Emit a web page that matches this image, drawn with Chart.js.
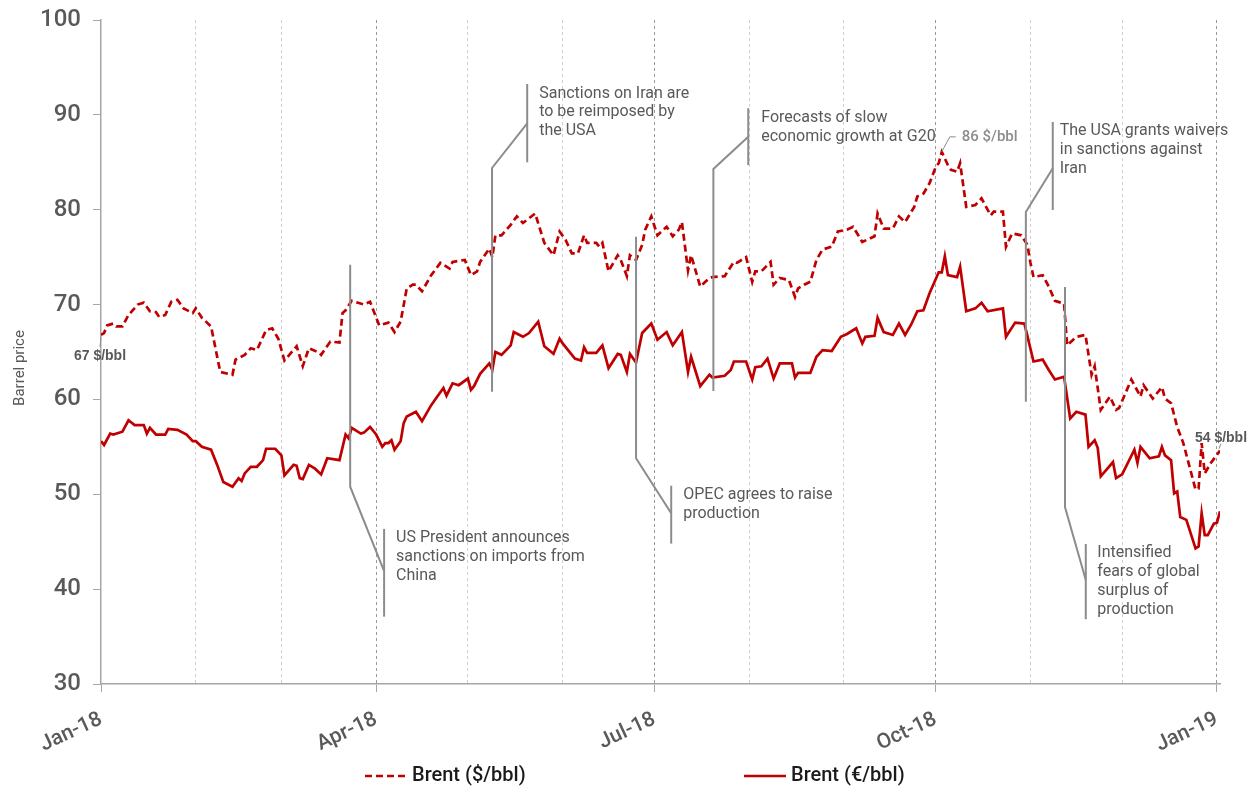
<!DOCTYPE html>
<html>
<head>
<meta charset="utf-8">
<script src="https://cdn.jsdelivr.net/npm/chart.js@4.4.1/dist/chart.umd.min.js"></script>
<style>
    body { margin: 0; background: #fff; }
    .chart-box { width: 1256px; height: 789px; }
</style>
</head>
<body>
<div class="chart-box"><canvas id="myChart"></canvas></div>
<script>
"use strict"
// x values are days counted from 1 Jan 2018

const usdDays = [
    0, 1, 2, 4, 5, 7, 9, 12, 14, 16,
    18, 19, 21, 23, 25, 27, 30, 31, 33, 36,
    37, 39, 43, 44, 47, 49, 51, 54, 56, 58,
    60, 64, 66, 68, 71, 72, 75, 78, 79, 80,
    82, 86, 88, 91, 94, 96, 98, 100, 102, 103,
    105, 108, 111, 114, 115, 119, 121, 123, 124, 127,
    128, 129, 131, 134, 136, 138, 140, 142, 145, 148,
    150, 152, 154, 156, 158, 159, 162, 163, 164, 166,
    169, 170, 172, 173, 175, 177, 178, 180, 182, 185,
    187, 189, 190, 192, 193, 196, 199, 200, 204, 207,
    208, 211, 213, 214, 216, 219, 220, 222, 225, 227,
    228, 230, 232, 234, 236, 239, 241, 244, 246, 249,
    253, 254, 256, 259, 261, 263, 266, 267, 269, 271,
    273, 274, 275, 277, 278, 280, 281, 283, 286, 288,
    291, 292, 295, 296, 298, 301, 303, 304, 305, 308,
    310, 312, 315, 316, 319, 322, 324, 325, 327, 330,
    332, 333, 337, 340, 341, 344, 347, 348, 350, 352,
    354, 358, 359, 360, 361, 363, 366
]
const usdPrices = [
    66.8, 67.0, 67.8, 68.0, 67.7, 67.7, 68.9, 70.0, 70.2, 69.3,
    69.2, 68.7, 68.9, 70.3, 70.5, 69.6, 69.1, 69.6, 68.6, 67.7,
    66.1, 62.9, 62.6, 64.2, 64.7, 65.4, 65.2, 67.3, 67.5, 66.4,
    64.1, 65.6, 63.5, 65.4, 65.0, 64.7, 66.1, 66.0, 69.1, 69.4,
    70.4, 70.0, 70.3, 67.8, 68.1, 67.1, 68.2, 71.7, 72.1, 72.1,
    71.4, 73.1, 74.4, 73.8, 74.5, 74.7, 73.1, 73.5, 74.5, 75.9,
    75.0, 77.3, 77.3, 78.4, 79.3, 78.6, 79.1, 79.6, 76.5, 75.2,
    77.7, 76.8, 75.4, 75.4, 77.3, 76.5, 76.5, 76.1, 76.5, 73.5,
    75.2, 74.7, 73.0, 75.2, 74.7, 76.3, 77.9, 79.3, 77.3, 78.2,
    77.2, 77.9, 78.7, 73.6, 75.2, 71.9, 72.8, 72.9, 73.0, 74.5,
    74.4, 75.0, 72.4, 73.5, 73.5, 74.5, 72.1, 72.8, 72.6, 70.8,
    71.7, 72.1, 72.4, 74.7, 75.8, 76.1, 77.7, 77.9, 78.2, 76.6,
    77.2, 79.6, 78.0, 78.0, 79.3, 78.7, 80.3, 81.4, 81.7, 82.8,
    84.5, 84.9, 86.1, 84.7, 84.2, 84.0, 84.9, 80.3, 80.5, 81.2,
    79.4, 79.8, 79.8, 76.1, 77.5, 77.3, 76.3, 74.4, 72.9, 73.1,
    71.9, 70.4, 70.1, 65.7, 66.6, 66.8, 62.6, 63.5, 58.9, 60.3,
    58.9, 59.1, 62.1, 60.3, 61.5, 60.1, 61.3, 60.1, 59.6, 57.1,
    55.4, 50.5, 50.6, 55.4, 52.2, 53.3, 54.6
]

const eurDays = [
    0, 1, 3, 4, 7, 9, 11, 14, 15, 16,
    18, 21, 22, 25, 28, 30, 31, 33, 36, 38,
    40, 43, 45, 46, 47, 49, 51, 53, 54, 57,
    59, 60, 63, 64, 65, 66, 68, 70, 72, 74,
    78, 80, 81, 82, 85, 86, 88, 90, 92, 93,
    94, 95, 96, 98, 99, 100, 103, 104, 105, 108,
    110, 112, 113, 115, 117, 120, 121, 122, 124, 127,
    128, 129, 131, 134, 135, 138, 140, 143, 145, 148,
    150, 151, 155, 157, 158, 159, 162, 164, 166, 169,
    170, 172, 173, 175, 177, 180, 182, 185, 187, 190,
    192, 193, 196, 199, 200, 204, 206, 207, 211, 213,
    214, 216, 218, 220, 222, 226, 227, 228, 232, 234,
    236, 239, 242, 244, 247, 249, 250, 253, 254, 256,
    259, 261, 263, 265, 267, 269, 271, 274, 275, 276,
    277, 280, 281, 283, 286, 288, 290, 295, 296, 299,
    302, 303, 305, 308, 310, 312, 315, 317, 319, 322,
    323, 325, 326, 327, 331, 332, 334, 338, 339, 340,
    343, 346, 347, 348, 350, 351, 352, 353, 355, 358,
    359, 360, 361, 362, 364, 365, 366
]
const eurPrices = [
    55.6, 55.2, 56.4, 56.3, 56.6, 57.8, 57.3, 57.3, 56.4, 57.0,
    56.3, 56.3, 56.9, 56.8, 56.3, 55.6, 55.6, 55.0, 54.7, 53.1,
    51.3, 50.8, 51.7, 51.4, 52.2, 52.9, 52.9, 53.6, 54.8, 54.8,
    54.1, 52.0, 53.1, 53.0, 51.7, 51.6, 53.1, 52.7, 52.1, 53.8,
    53.6, 56.3, 55.9, 57.0, 56.4, 56.5, 57.1, 56.3, 55.0, 55.4,
    55.4, 55.7, 54.7, 55.6, 57.5, 58.2, 58.7, 58.2, 57.7, 59.4,
    60.3, 61.2, 60.4, 61.7, 61.5, 62.2, 61.0, 61.4, 62.7, 63.8,
    63.1, 65.0, 64.7, 65.7, 67.1, 66.6, 67.0, 68.2, 65.6, 64.8,
    66.4, 65.9, 64.3, 64.1, 65.5, 64.9, 64.9, 65.7, 63.3, 64.8,
    64.7, 62.9, 64.8, 63.9, 67.0, 68.0, 66.3, 67.1, 65.7, 67.1,
    62.9, 64.5, 61.4, 62.6, 62.3, 62.5, 63.1, 64.0, 64.0, 62.1,
    63.4, 63.5, 64.3, 62.2, 63.8, 63.8, 62.3, 62.8, 62.8, 64.5,
    65.2, 65.1, 66.6, 66.9, 67.5, 65.9, 66.6, 66.7, 68.6, 67.1,
    66.8, 68.0, 66.8, 67.9, 69.3, 69.4, 71.2, 73.4, 73.4, 75.1,
    73.1, 72.9, 74.0, 69.3, 69.6, 70.2, 69.3, 69.6, 66.6, 68.1,
    68.0, 66.7, 64.0, 64.2, 63.1, 62.1, 62.4, 58.0, 58.7, 58.4,
    55.0, 55.7, 54.9, 51.9, 53.4, 51.7, 52.1, 54.7, 53.3, 55.0,
    53.8, 54.0, 55.0, 54.1, 53.6, 50.1, 50.3, 47.6, 47.3, 44.3,
    44.5, 48.0, 45.7, 45.7, 46.9, 47.0, 48.2
]

const monthStarts = [0, 31, 59, 90, 120, 151, 181, 212, 243, 273, 304, 334, 365]
const quarterLabels = { 0: 'Jan-18', 90: 'Apr-18', 181: 'Jul-18', 273: 'Oct-18', 365: 'Jan-19' }

// callouts: leader goes up/down from `start` to `bend` at `day`, then slants to the text bar
const events = [
    { text: ['US President announces', 'sanctions on imports from', 'China'], day: 81.5, start: 74.2, bend: 50.8, barDay: 92.6, join: 41.9, barTop: 46.35, barBottom: 37.1, gap: 12 },
    { text: ['Sanctions on Iran are', 'to be reimposed by', 'the USA'], day: 127.9, start: 60.8, bend: 84.4, barDay: 139.4, join: 89.1, barTop: 93.25, barBottom: 85.0, gap: 12 },
    { text: ['OPEC agrees to raise', 'production'], day: 175, start: 77.15, bend: 53.8, barDay: 186.5, join: 48.0, barTop: 50.9, barBottom: 44.8, gap: 12 },
    { text: ['Forecasts of slow', 'economic growth at G20'], day: 200.3, start: 60.9, bend: 84.3, barDay: 211.7, join: 87.7, barTop: 90.7, barBottom: 84.7, gap: 13 },
    { text: ['The USA grants waivers', 'in sanctions against', 'Iran'], day: 302.5, start: 59.76, bend: 79.76, barDay: 311.3, join: 84.37, barTop: 89.25, barBottom: 79.97, gap: 7 },
    { text: ['Intensified', 'fears of global', 'surplus of', 'production'], day: 315.3, start: 71.85, bend: 48.66, barDay: 322.1, join: 40.97, barTop: 44.76, barBottom: 36.83, gap: 11.5 },
]

const valueNotes = [
    { text: '67 $/bbl', day: 0, value: 66.8, leader: [[0, 2], [-1, 12]], at: [-1, 21], align: 'center', font: 'bold 14px "Liberation Sans"', color: '#595959' },
    { text: '86 $/bbl', day: 275, value: 86.1, leader: [[0, 0], [8, -15], [14, -15]], at: [20, -15], align: 'left', font: '500 15px Roboto', color: '#8c8c8c' },
    { text: '54 $/bbl', day: 366, value: 54.6, leader: [[-1, -2], [1, -7]], at: [1, -13], align: 'center', font: 'bold 14px "Liberation Sans"', color: '#595959' },
]

const RED = '#c00000'
const GREY_LINE = '#8c8c8c'
const TEXT_GREY = '#595959'

function toPoints(days, values) {
    return days.map((d, i) => ({ x: d, y: values[i] }))
}

const calloutPlugin = {
    id: 'callouts',
    afterDatasetsDraw(chart) {
        const { ctx, scales: { x, y } } = chart
        ctx.save()
        ctx.lineWidth = 2
        ctx.strokeStyle = GREY_LINE
        ctx.textBaseline = 'middle'

        events.forEach(ev => {
            const x0 = x.getPixelForValue(ev.day)
            const x1 = x.getPixelForValue(ev.barDay)
            ctx.beginPath()
            ctx.moveTo(x0, y.getPixelForValue(ev.start))
            ctx.lineTo(x0, y.getPixelForValue(ev.bend))
            ctx.lineTo(x1, y.getPixelForValue(ev.join))
            ctx.stroke()

            const top = y.getPixelForValue(ev.barTop)
            ctx.beginPath()
            ctx.moveTo(x1, top)
            ctx.lineTo(x1, y.getPixelForValue(ev.barBottom))
            ctx.stroke()

            ctx.fillStyle = TEXT_GREY
            ctx.font = '16px Roboto'
            ctx.textAlign = 'left'
            ev.text.forEach((line, i) => ctx.fillText(line, x1 + ev.gap, top + 9.5 + i * 18.8))
        })

        valueNotes.forEach(n => {
            const px = x.getPixelForValue(n.day)
            const py = y.getPixelForValue(n.value)
            ctx.lineWidth = 1
            ctx.strokeStyle = GREY_LINE
            ctx.beginPath()
            n.leader.forEach(([dx, dy], i) => i ? ctx.lineTo(px + dx, py + dy) : ctx.moveTo(px + dx, py + dy))
            ctx.stroke()
            ctx.fillStyle = n.color
            ctx.font = n.font
            ctx.textAlign = n.align
            ctx.fillText(n.text, px + n.at[0], py + n.at[1])
        })
        ctx.restore()
    },
    afterDraw(chart) {
        const { ctx } = chart
        ctx.save()
        // axis title
        ctx.translate(20, 368)
        ctx.rotate(-Math.PI / 2)
        ctx.fillStyle = TEXT_GREY
        ctx.font = '15px Roboto'
        ctx.textAlign = 'center'
        ctx.textBaseline = 'middle'
        ctx.fillText('Barrel price', 0, 0)
        ctx.restore()

        // legend
        const starts = [365, 744]
        ctx.save()
        ctx.textBaseline = 'middle'
        ctx.textAlign = 'left'
        ctx.font = '500 20px Roboto'
        chart.data.datasets.forEach((ds, i) => {
            const lx = starts[i]
            ctx.strokeStyle = ds.borderColor
            ctx.lineWidth = ds.borderWidth
            ctx.setLineDash(ds.borderDash || [])
            ctx.beginPath()
            ctx.moveTo(lx, 776)
            ctx.lineTo(lx + 42, 776)
            ctx.stroke()
            ctx.setLineDash([])
            ctx.fillStyle = '#1a1a1a'
            ctx.fillText(ds.label, lx + 47, 776)
        })
        ctx.restore()
    }
}

const ctx = document.getElementById('myChart').getContext('2d')
const chart = new Chart(ctx, {
    type: 'line',
    data: {
        datasets: [
            {
                label: 'Brent ($/bbl)',
                data: toPoints(usdDays, usdPrices),
                borderColor: RED,
                borderWidth: 2.7,
                borderDash: [7, 4],
                pointRadius: 0,
                tension: 0,
                fill: false,
            },
            {
                label: 'Brent (€/bbl)',
                data: toPoints(eurDays, eurPrices),
                borderColor: RED,
                borderWidth: 2.7,
                pointRadius: 0,
                tension: 0,
                fill: false,
            }
        ]
    },
    options: {
        responsive: true,
        maintainAspectRatio: false,
        animation: false,
        layout: { padding: { top: 20, right: 36, bottom: 0, left: 0 } },
        plugins: {
            legend: { display: false },
            tooltip: { enabled: false },
        },
        scales: {
            x: {
                type: 'linear',
                min: 0,
                max: 366,
                afterBuildTicks: scale => { scale.ticks = monthStarts.map(v => ({ value: v })) },
                afterFit: scale => { scale.height = 105 },
                ticks: {
                    autoSkip: false,
                    maxRotation: 25,
                    minRotation: 25,
                    padding: 15,
                    color: TEXT_GREY,
                    font: { family: 'Roboto', size: 21, weight: 500 },
                    callback: v => quarterLabels[v] || '',
                },
                grid: {
                    color: c => c.tick && c.tick.value === 0 ? 'rgba(0,0,0,0)' : (quarterLabels[c.tick.value] ? '#9a9a9a' : '#cfcfcf'),
                    lineWidth: 1,
                    tickLength: 8,
                    tickColor: c => quarterLabels[c.tick.value] ? '#a6a6a6' : 'rgba(0,0,0,0)',
                    tickBorderDash: [],
                },
                border: { display: true, color: '#a6a6a6', width: 1.5, dash: [3, 3] },
            },
            y: {
                min: 30,
                max: 100,
                afterFit: scale => {
                    scale.width = 101
                    scale.paddingTop = 14
                    scale.paddingBottom = 14
                },
                ticks: {
                    stepSize: 10,
                    padding: 12,
                    color: TEXT_GREY,
                    font: { family: 'Roboto', size: 24, weight: 500 },
                },
                grid: {
                    drawOnChartArea: false,
                    tickLength: 8,
                    tickColor: '#a6a6a6',
                },
                border: { display: true, color: '#a6a6a6', width: 1.5 },
            }
        }
    },
    plugins: [calloutPlugin]
})
</script>
</body>
</html>
